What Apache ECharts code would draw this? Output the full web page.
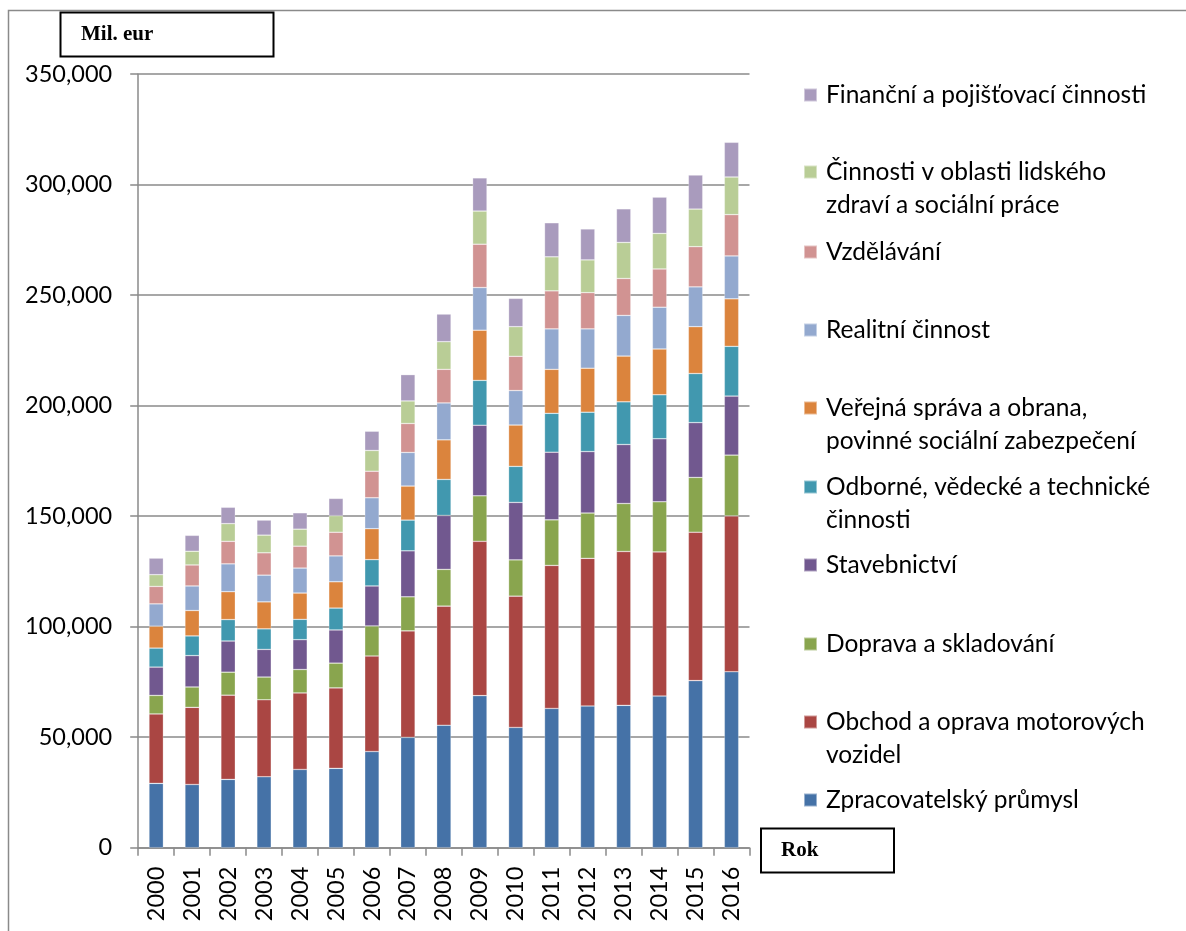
<!DOCTYPE html>
<html>
<head>
<meta charset="utf-8">
<script src="https://cdn.jsdelivr.net/npm/echarts@6/dist/echarts.min.js"></script>
<style>
  html, body { margin: 0; padding: 0; background: #fff; }
  #chart { width: 1186px; height: 931px; }
</style>
</head>
<body>
<div id="chart"></div>
<script>
// ---------- DATA (mil. eur) ----------
const years = ['2000','2001','2002','2003','2004','2005','2006','2007','2008','2009','2010','2011','2012','2013','2014','2015','2016'];
const yTicks = [0, 50000, 100000, 150000, 200000, 250000, 300000, 350000];

const zpracovatelsky = [29100, 28600, 30900, 32100, 35400, 35900, 43500, 49900, 55400, 68800, 54400, 63000, 64100, 64400, 68600, 75600, 79600];
const obchod         = [31400, 34900, 38100, 34800, 34600, 36400, 43200, 48200, 53900, 69800, 59400, 64700, 66800, 69600, 65200, 67100, 70500];
const doprava        = [ 8400,  9200, 10400, 10300, 10600, 11200, 13600, 15400, 16600, 20600, 16400, 20600, 20500, 21700, 22700, 24800, 27500];
const stavebnictvi   = [12800, 14200, 14100, 12500, 13500, 15000, 18100, 20800, 24400, 31900, 26000, 30600, 27800, 26700, 28500, 24800, 26700];
const odborne        = [ 8600,  8900,  9700,  9300,  9200,  9900, 11900, 13900, 16300, 20300, 16300, 17600, 17800, 19300, 19900, 22200, 22500];
const verejna        = [ 9900, 11500, 12600, 12200, 11900, 11900, 14000, 15400, 17900, 22700, 18700, 19900, 19900, 20700, 20700, 21200, 21500];
const realitni       = [10100, 11100, 12600, 12100, 11300, 11700, 14000, 15200, 16700, 19300, 15600, 18300, 17800, 18400, 18900, 18000, 19400];
const vzdelavani     = [ 7900,  9500, 10200, 10100,  9900, 10700, 12000, 13100, 15200, 19600, 15500, 17200, 16400, 16700, 17300, 18200, 18700];
const zdravi         = [ 5300,  6200,  8000,  8000,  7700,  7500,  9400, 10200, 12500, 15000, 13400, 15400, 14800, 16300, 16100, 17000, 17000];
const financni       = [ 7500,  7200,  7400,  6800,  7400,  7800,  8700, 11900, 12500, 15000, 12800, 15400, 14000, 15200, 16400, 15400, 15700];

const seriesNames = [
  'Zpracovatelský průmysl',
  'Obchod a oprava motorových vozidel',
  'Doprava a skladování',
  'Stavebnictví',
  'Odborné, vědecké a technické činnosti',
  'Veřejná správa a obrana, povinné sociální zabezpečení',
  'Realitní činnost',
  'Vzdělávání',
  'Činnosti v oblasti lidského zdraví a sociální práce',
  'Finanční a pojišťovací činnosti'
];
const legendLabels = [
  'Zpracovatelský průmysl',
  'Obchod a oprava motorových\nvozidel',
  'Doprava a skladování',
  'Stavebnictví',
  'Odborné, vědecké a technické\nčinnosti',
  'Veřejná správa a obrana,\npovinné sociální zabezpečení',
  'Realitní činnost',
  'Vzdělávání',
  'Činnosti v oblasti lidského\nzdraví a sociální práce',
  'Finanční a pojišťovací činnosti'
];
const seriesValues = [zpracovatelsky, obchod, doprava, stavebnictvi, odborne, verejna, realitni, vzdelavani, zdravi, financni];

// ---------- STYLE / LAYOUT ----------
const colors = ['#4572A7', '#AA4643', '#89A54E', '#71588F', '#4198AF', '#DB843D', '#93A9CF', '#D19392', '#B9CD96', '#A99BBD'];
const legendFirstLineY = [800, 722, 644, 565, 487, 408, 330, 252, 172, 95];
const FONT = 'Lato, "Open Sans", sans-serif';
const LEG_LH = 33, ICON = 13;
const axisGray = '#8a8a8a';

const chart = echarts.init(document.getElementById('chart'), null, { renderer: 'canvas' });

const series = seriesNames.map((name, i) => ({
  name: name,
  type: 'bar',
  stack: 'total',
  barWidth: '40%',
  data: seriesValues[i],
  itemStyle: { color: colors[i], borderColor: 'rgba(255,255,255,0.45)', borderWidth: 0.6 },
  emphasis: { disabled: true }
}));

// Multi-line legend entries: a leading empty line keeps the first text line level with the marker.
const legends = seriesNames.map((name, i) => {
  const twoLine = legendLabels[i].indexOf('\n') >= 0;
  return {
    show: true,
    orient: 'vertical',
    left: 803,
    top: twoLine ? legendFirstLineY[i] - 1.5 * LEG_LH : legendFirstLineY[i] - LEG_LH / 2,
    padding: 0,
    itemWidth: ICON,
    itemHeight: ICON,
    icon: 'rect',
    selectedMode: false,
    data: [name],
    formatter: () => (twoLine ? '\n' : '') + legendLabels[i],
    textStyle: {
      fontFamily: FONT,
      fontSize: 24.5,
      color: '#000',
      lineHeight: LEG_LH,
      padding: [0, 0, 0, 4]
    }
  };
});

chart.setOption({
  animation: false,
  color: colors,
  backgroundColor: '#fff',
  grid: { left: 138.2, right: 436.5, top: 74, bottom: 83.3, containLabel: false },
  legend: legends,
  xAxis: {
    type: 'category',
    data: years,
    axisLine: { show: true, lineStyle: { color: axisGray, width: 1.5 } },
    axisTick: { show: true, length: 8, lineStyle: { color: axisGray, width: 1.5 } },
    axisLabel: { rotate: 90, interval: 0, margin: 19, fontFamily: FONT, fontSize: 23.5, color: '#000' },
    splitLine: { show: false }
  },
  yAxis: {
    type: 'value',
    min: yTicks[0],
    max: yTicks[yTicks.length - 1],
    interval: yTicks[1] - yTicks[0],
    axisLine: { show: true, lineStyle: { color: axisGray, width: 1.5 } },
    axisTick: { show: true, length: 8, lineStyle: { color: axisGray, width: 1.5 } },
    axisLabel: {
      margin: 26, fontFamily: FONT, fontSize: 23.5, color: '#000',
      formatter: v => v.toLocaleString('en-US')
    },
    splitLine: { show: true, lineStyle: { color: axisGray, width: 1.5 } }
  },
  series: series,
  graphic: [
    { type: 'rect', z: -10, silent: true, shape: { x: 8.5, y: 10.5, width: 1300, height: 1000 },
      style: { fill: null, stroke: '#8a8a8a', lineWidth: 1.5 } },
    { type: 'rect', silent: true, shape: { x: 60.5, y: 12.5, width: 213, height: 44 },
      style: { fill: '#fff', stroke: '#000', lineWidth: 2 } },
    { type: 'text', silent: true, x: 81, y: 35,
      style: { text: 'Mil. eur', font: 'bold 21px "Liberation Serif", "Times New Roman", serif', fill: '#000', verticalAlign: 'middle' } },
    { type: 'rect', silent: true, shape: { x: 761, y: 828.5, width: 133, height: 44 },
      style: { fill: '#fff', stroke: '#000', lineWidth: 2 } },
    { type: 'text', silent: true, x: 781, y: 851,
      style: { text: 'Rok', font: 'bold 21px "Liberation Serif", "Times New Roman", serif', fill: '#000', verticalAlign: 'middle' } }
  ]
});
</script>
</body>
</html>
